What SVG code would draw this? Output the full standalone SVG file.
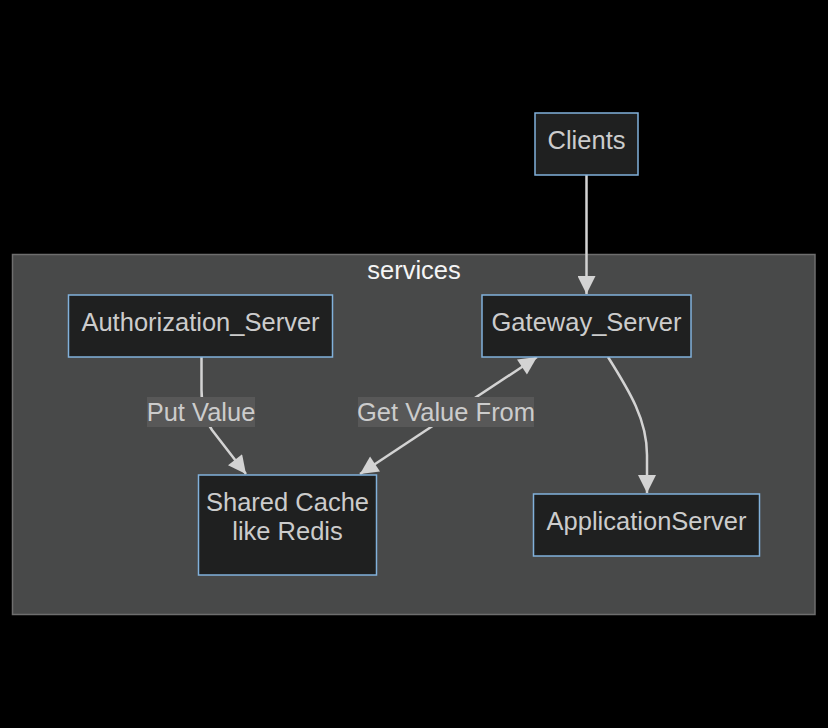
<svg xmlns="http://www.w3.org/2000/svg" width="828" height="728" viewBox="0 0 828 728">
<style>
.node rect{fill:#1f2020;stroke:#81b1db;stroke-width:1.5}
.t{font-family:"Liberation Sans",Arial,sans-serif;font-size:25.5px;fill:#cccccc;text-anchor:middle}
.edge{fill:none;stroke:#d3d3d3;stroke-width:2.5}
.lbl{fill:#585858}
</style>
<defs>
<marker id="ah" viewBox="0 0 10 10" refX="10" refY="5" markerUnits="userSpaceOnUse" markerWidth="19" markerHeight="18" orient="auto-start-reverse">
<path d="M0,0 L10,5 L0,10 z" fill="#d3d3d3"/>
</marker>
</defs>
<rect width="828" height="728" fill="#000"/>
<g id="cluster-services">
<rect x="12.5" y="254.5" width="802.5" height="360" fill="#484949" stroke="#6e6e6e" stroke-width="1.5"/>
<text class="t" x="414" y="279" style="fill:#f5f5f5">services</text>
</g>
<g id="edges">
<path class="edge" d="M586.5,175 L586.5,294" marker-end="url(#ah)"/>
<path class="edge" d="M201.5,357 L201.5,390 C201.5,408 205,420 212,430 L246,474" marker-end="url(#ah)"/>
<path class="edge" d="M537,357 L360,474" marker-start="url(#ah)" marker-end="url(#ah)"/>
<path class="edge" d="M608,357 C630,392 647,420 647,455 L647,493" marker-end="url(#ah)"/>
<g id="label-put">
<rect class="lbl" x="147" y="397" width="108" height="30"/>
<text class="t" x="201" y="421">Put Value</text>
</g>
<g id="label-get">
<rect class="lbl" x="358" y="397" width="176" height="30"/>
<text class="t" x="446" y="421">Get Value From</text>
</g>
</g>
<g id="Clients" class="node">
<rect x="535" y="113" width="103" height="62"/>
<text class="t" x="586.5" y="149">Clients</text>
</g>
<g id="Gateway_Server" class="node">
<rect x="482" y="295" width="209" height="62"/>
<text class="t" x="586.5" y="331">Gateway_Server</text>
</g>
<g id="Authorization_Server" class="node">
<rect x="68.5" y="295" width="264" height="62"/>
<text class="t" x="200.5" y="331">Authorization_Server</text>
</g>
<g id="SharedCache" class="node">
<rect x="198.5" y="475" width="178" height="100"/>
<text class="t" x="287.5" y="511">Shared Cache</text>
<text class="t" x="287.5" y="540">like Redis</text>
</g>
<g id="ApplicationServer" class="node">
<rect x="533.5" y="494" width="226" height="62"/>
<text class="t" x="646.5" y="530">ApplicationServer</text>
</g>
</svg>
